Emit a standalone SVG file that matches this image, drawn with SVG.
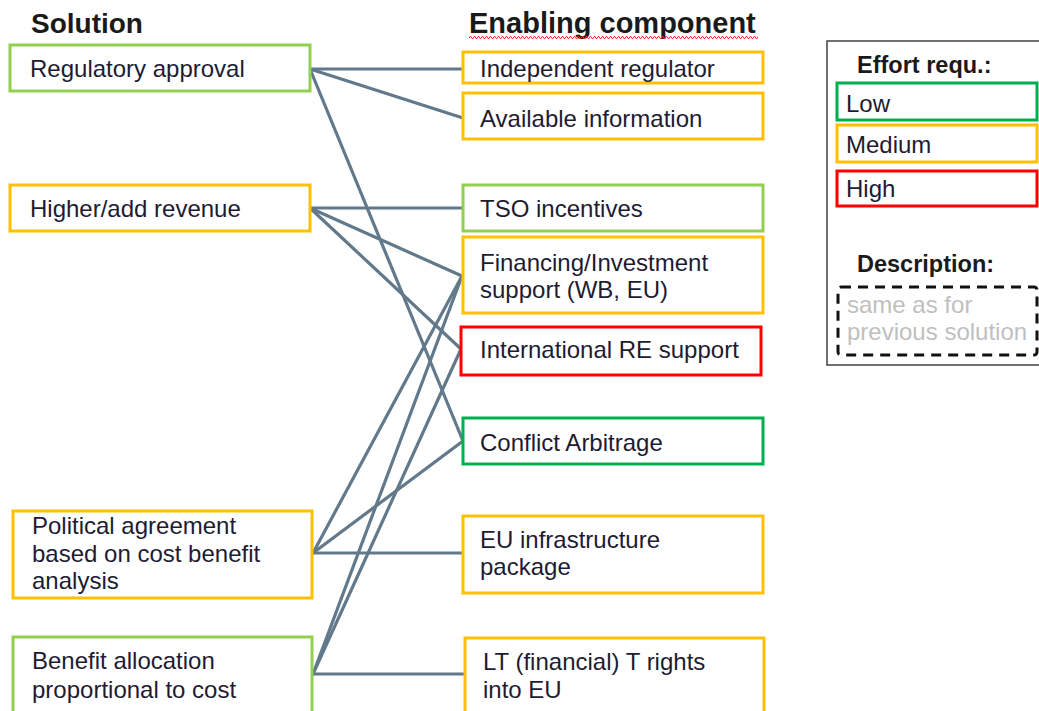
<svg xmlns="http://www.w3.org/2000/svg" width="1039" height="711" viewBox="0 0 1039 711">
<style>
  .box{fill:#fff;stroke-width:3}
  .lg{stroke:#92D050}
  .dg{stroke:#00B050}
  .or{stroke:#FFC000}
  .rd{stroke:#FF0000}
  .t{font-family:"Liberation Sans",Arial,sans-serif;font-size:24px;fill:#1E1B33}
  .h{font-family:"Liberation Sans",Arial,sans-serif;font-weight:bold;fill:#1A1A1A}
  .conn line{stroke:#61798B;stroke-width:3.2;stroke-linecap:round}
</style>
<defs>
  <pattern id="squig" x="469" y="36" width="4" height="3" patternUnits="userSpaceOnUse">
    <path d="M0 2.5 L1 0.5 L2 0.5 L3 2.5 L4 2.5" fill="none" stroke="#FF3333" stroke-width="1"/>
  </pattern>
</defs>
<rect width="1039" height="711" fill="#fff"/>

<g id="titles">
  <text class="h" x="31" y="33" font-size="28">Solution</text>
  <text class="h" x="469" y="33" font-size="29">Enabling component</text>
  <rect x="469" y="36" width="289" height="3" fill="url(#squig)"/>
</g>

<g id="connectors" class="conn">
  <line x1="310" y1="69" x2="463" y2="69"/>
  <line x1="310" y1="69" x2="463" y2="118"/>
  <line x1="310" y1="69" x2="463" y2="441"/>
  <line x1="310" y1="208" x2="463" y2="208"/>
  <line x1="310" y1="208" x2="462" y2="276"/>
  <line x1="310" y1="208" x2="461" y2="349"/>
  <line x1="313" y1="553" x2="462" y2="276"/>
  <line x1="313" y1="553" x2="463" y2="441"/>
  <line x1="313" y1="553" x2="463" y2="553"/>
  <line x1="313" y1="674" x2="462" y2="276"/>
  <line x1="313" y1="674" x2="461" y2="349"/>
  <line x1="313" y1="674" x2="465" y2="674"/>
</g>

<g id="sol-regulatory">
  <rect class="box lg" x="10" y="45" width="300" height="46"/>
  <text class="t" x="30" y="77">Regulatory approval</text>
</g>
<g id="sol-revenue">
  <rect class="box or" x="10" y="185" width="300" height="46"/>
  <text class="t" x="30" y="217">Higher/add revenue</text>
</g>
<g id="sol-political">
  <rect class="box or" x="13" y="511" width="299" height="87"/>
  <text class="t" x="32" y="534">Political agreement</text>
  <text class="t" x="32" y="562">based on cost benefit</text>
  <text class="t" x="32" y="589">analysis</text>
</g>
<g id="sol-benefit">
  <rect class="box lg" x="13" y="637" width="299" height="90"/>
  <text class="t" x="32" y="669">Benefit allocation</text>
  <text class="t" x="32" y="698">proportional to cost</text>
</g>

<g id="ec-regulator">
  <rect class="box or" x="463" y="52" width="300" height="31"/>
  <text class="t" x="480" y="77">Independent regulator</text>
</g>
<g id="ec-information">
  <rect class="box or" x="463" y="93" width="300" height="46"/>
  <text class="t" x="480" y="127">Available information</text>
</g>
<g id="ec-tso">
  <rect class="box lg" x="463" y="185" width="300" height="46"/>
  <text class="t" x="480" y="217">TSO incentives</text>
</g>
<g id="ec-financing">
  <rect class="box or" x="463" y="237" width="300" height="76"/>
  <text class="t" x="480" y="271">Financing/Investment</text>
  <text class="t" x="480" y="298">support (WB, EU)</text>
</g>
<g id="ec-international">
  <rect class="box rd" x="461" y="327" width="300" height="48"/>
  <text class="t" x="480" y="358">International RE support</text>
</g>
<g id="ec-conflict">
  <rect class="box dg" x="463" y="418" width="300" height="46"/>
  <text class="t" x="480" y="451">Conflict Arbitrage</text>
</g>
<g id="ec-eu-infra">
  <rect class="box or" x="463" y="516" width="300" height="77"/>
  <text class="t" x="480" y="548">EU infrastructure</text>
  <text class="t" x="480" y="575">package</text>
</g>
<g id="ec-lt-rights">
  <rect class="box or" x="465" y="638" width="299" height="90"/>
  <text class="t" x="483" y="670">LT (financial) T rights</text>
  <text class="t" x="483" y="698">into EU</text>
</g>

<g id="legend">
  <rect x="827" y="41" width="230" height="324" fill="#fff" stroke="#404040" stroke-width="1.5"/>
  <text class="h" x="857" y="73" font-size="23.5">Effort requ.:</text>
  <rect class="box dg" x="837" y="83" width="200" height="37"/>
  <text class="t" x="846" y="112">Low</text>
  <rect class="box or" x="837" y="125" width="200" height="37"/>
  <text class="t" x="846" y="153">Medium</text>
  <rect class="box rd" x="837" y="171" width="200" height="35"/>
  <text class="t" x="846" y="197">High</text>
  <text class="h" x="857" y="272" font-size="23.5">Description:</text>
  <rect x="838" y="287" width="199" height="68" rx="3" fill="#fff" stroke="#111" stroke-width="3" stroke-dasharray="10 7"/>
  <text class="t" x="847" y="313" style="fill:#BFBFBF">same as for</text>
  <text class="t" x="847" y="340" style="fill:#BFBFBF">previous solution</text>
</g>
</svg>
